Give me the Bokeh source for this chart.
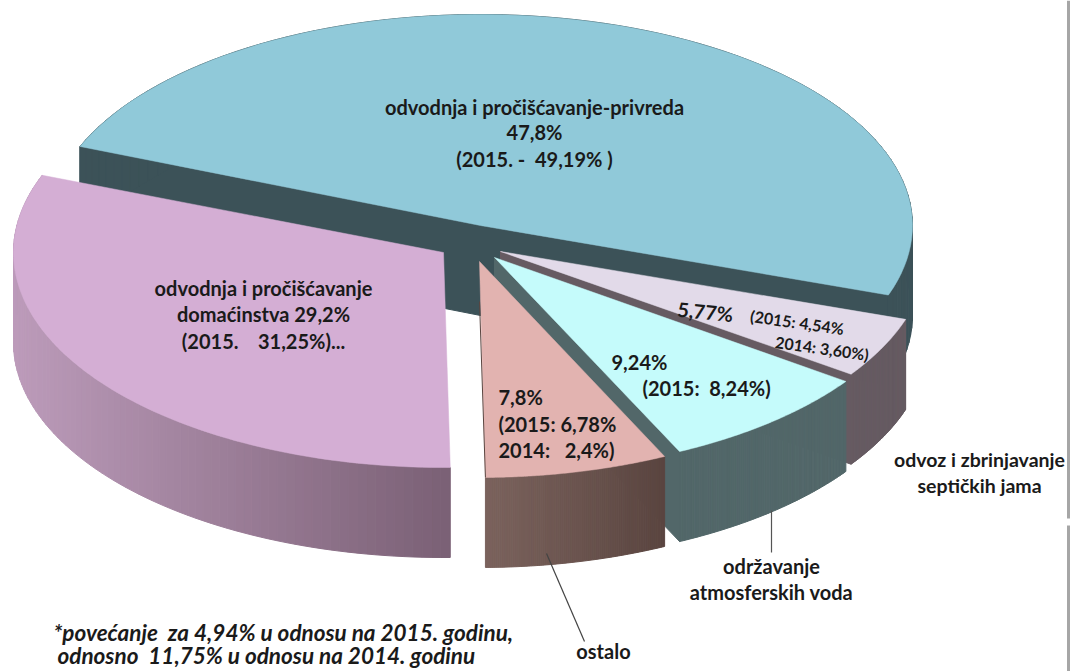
import math
from bokeh.plotting import figure
from bokeh.models import Range1d
from bokeh.core.properties import value
from bokeh.embed import file_html
from bokeh.resources import INLINE

# ---- data
categories = ["odvodnja i pročišćavanje-privreda", "odvodnja i pročišćavanje domaćinstva",
              "ostalo", "održavanje atmosferskih voda", "odvoz i zbrinjavanje septičkih jama"]
shares = [47.8, 29.2, 7.8, 9.24, 5.77]

N = "\u00a0"
labels_privreda = ["odvodnja i pročišćavanje-privreda", "47,8%", f"(2015. -{N}{N}49,19% )"]
labels_domacinstva = ["odvodnja i pročišćavanje", "domaćinstva 29,2%", f"(2015.{N}{N}{N}{N}31,25%)..."]
labels_ostalo = ["7,8%", "(2015: 6,78%", f"2014:{N}{N}{N}2,4%)"]
labels_oborinske = ["9,24%", f"(2015:{N}{N}8,24%)"]
labels_septicke = ["5,77%", "(2015: 4,54%", "2014: 3,60%)"]
outer_septicke = ["odvoz i zbrinjavanje", "septičkih jama"]
outer_oborinske = ["održavanje", "atmosferskih voda"]
outer_ostalo = ["ostalo"]
footnote = [f"*povećanje{N}{N}za 4,94% u odnosu na 2015. godinu,", f"odnosno{N}{N}11,75% u odnosu na 2014. godinu"]

# ---- layout of the 3-D look: apex, radii, start angle, distortion of the span, colours
DEPTH = 90
layout = {
    0: dict(cx=480, cy=225, rx=432, ry=211, start=158, warp=1.03, top="#90C9D9", s0="#3C5258", s1="#3C5258"),
    1: dict(cx=443, cy=252, rx=430, ry=215, start=-89.1, warp=1.065, top="#D4AED4", s0="#7A6075", s1="#BC9BBA"),
    2: dict(cx=479, cy=261, rx=430, ry=216, start=-64.5, warp=0.88, top="#E2B3B0", s0="#5A4540", s1="#7B635D"),
    3: dict(cx=494, cy=257, rx=430, ry=215, start=-35.2, warp=0.881, top="#C5FBFB", s0="#526769", s1="#526769"),
    4: dict(cx=500, cy=251, rx=427, ry=215, start=-18.4, warp=0.79, top="#E2DAE9", s0="#665B62", s1="#665B62"),
}
draw_order = [0, 4, 3, 2, 1]


def hexmix(a, b, t):
    ca = [int(a[i:i + 2], 16) for i in (1, 3, 5)]
    cb = [int(b[i:i + 2], 16) for i in (1, 3, 5)]
    return "#%02x%02x%02x" % tuple(round(x + (y - x) * t) for x, y in zip(ca, cb))


p = figure(width=1070, height=671, x_range=Range1d(0, 1070), y_range=Range1d(671, 0),
           output_backend="svg", toolbar_location=None, min_border=0,
           background_fill_color="white", border_fill_color="white")
p.axis.visible = False
p.grid.visible = False
p.outline_line_color = None

for i in draw_order:
    L = layout[i]
    span = shares[i] * 3.6 * L["warp"]
    n = 90
    angs = [math.radians(L["start"] - span * k / n) for k in range(n + 1)]
    xs = [L["cx"] + L["rx"] * math.cos(a) for a in angs]
    ys = [L["cy"] - L["ry"] * math.sin(a) for a in angs]
    # cut faces that look towards the viewer
    face_col = L["s0"]
    if i == 0:
        p.patch([xs[0], L["cx"], L["cx"], xs[0]],
                [ys[0], L["cy"], L["cy"] + DEPTH, ys[0] + DEPTH],
                fill_color=face_col, line_color=face_col)
    if i in (0, 3, 4):
        p.patch([xs[-1], L["cx"], L["cx"], xs[-1]],
                [ys[-1], L["cy"], L["cy"] + DEPTH, ys[-1] + DEPTH],
                fill_color=face_col, line_color=face_col)
    # outer wall, shaded across its width
    xmin, xmax = min(xs), max(xs)
    qx, qy, qc = [], [], []
    for k in range(n):
        qx.append([xs[k], xs[k + 1], xs[k + 1], xs[k]])
        qy.append([ys[k], ys[k + 1], ys[k + 1] + DEPTH, ys[k] + DEPTH])
        t = (xmax - (xs[k] + xs[k + 1]) / 2) / (xmax - xmin)
        qc.append(hexmix(L["s0"], L["s1"], t))
    p.patches(qx, qy, fill_color=qc, line_color=qc, line_width=1)
    # top
    p.patch([L["cx"]] + xs, [L["cy"]] + ys, fill_color=L["top"], line_color=L["top"], line_width=0.5)
    if i == 2:
        p.line([L["cx"], xs[-1]], [L["cy"] + 40, ys[-1]], line_color=L["s0"], line_width=1)

# leader lines and the page's right rule
p.line([771, 771], [510, 552], line_color="#555555", line_width=1.2)
p.line([546, 584], [553, 641], line_color="#444444", line_width=1.2)
p.segment([1068, 1068], [0, 525], [1068, 1068], [518, 671], line_color="#a6a6a6", line_width=3)


def put(lines, xs, ys, size, align="center", style="bold", angle=0.0, color="#1a1a1a"):
    p.text(xs, ys, text=lines, text_font=value("Lato"), text_font_size=value(size),
           text_font_style=value(style), text_align=align, text_baseline="middle",
           text_color=color, angle=angle, angle_units="deg")


F = "20px"
put(labels_privreda, [534] * 3, [106, 131, 158], F)
put(labels_domacinstva, [263] * 3, [287, 313, 340], F)
put(labels_ostalo, [498] * 3, [396, 423, 449], F, align="left")
put(labels_oborinske[:1], [611], [361], F, align="left")
put(labels_oborinske[1:], [642], [387], F, align="left")
put(labels_septicke[:1], [677], [308], F, align="left", angle=-6)
put(labels_septicke[1:], [750, 775], [315, 341], "16px", align="left", style="bold", angle=-8)
put(outer_septicke, [979, 979], [459, 485], "19.5px")
put(outer_oborinske, [771, 771], [565, 591], F)
put(outer_ostalo, [603], [650], F)
put(footnote, [53, 57], [632, 655], "22.5px", align="left", style="bold italic")

open("out.html", "w").write(file_html(p, INLINE))
